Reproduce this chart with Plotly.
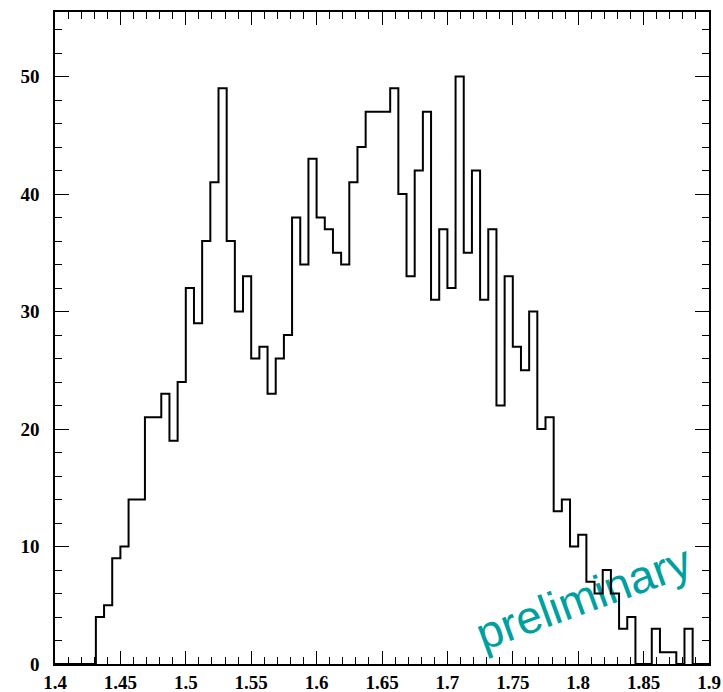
import plotly.graph_objects as go

# Histogram definition: 80 bins between 1.4 and 1.9
x_min = 1.4
x_max = 1.9
n_bins = 80

# Entries per bin
counts = [
    0, 0, 0, 0, 0, 4, 5, 9, 10, 14,
    14, 21, 21, 23, 19, 24, 32, 29, 36, 41,
    49, 36, 30, 33, 26, 27, 23, 26, 28, 38,
    34, 43, 38, 37, 35, 34, 41, 44, 47, 47,
    47, 49, 40, 33, 42, 47, 31, 37, 32, 50,
    35, 42, 31, 37, 22, 33, 27, 25, 30, 20,
    21, 13, 14, 10, 11, 7, 6, 8, 6, 3,
    4, 0, 0, 3, 1, 1, 0, 3, 0, 0,
]

x_ticks = [1.4, 1.45, 1.5, 1.55, 1.6, 1.65, 1.7, 1.75, 1.8, 1.85, 1.9]
x_tick_text = ["1.4", "1.45", "1.5", "1.55", "1.6", "1.65", "1.7", "1.75", "1.8", "1.85", "1.9"]
y_ticks = [0, 10, 20, 30, 40, 50]
y_tick_text = ["0", "10", "20", "30", "40", "50"]

watermark = "preliminary"

bin_width = (x_max - x_min) / n_bins
edges = [x_min + i * bin_width for i in range(n_bins + 1)]
step_y = counts + [counts[-1]]

fig = go.Figure()
fig.add_trace(go.Scatter(
    x=edges, y=step_y,
    mode="lines",
    line=dict(shape="hv", color="black", width=2),
    showlegend=False,
    hoverinfo="skip",
))

tick_font = dict(family="Liberation Serif", size=19, color="black", weight="bold")

fig.update_layout(
    width=723, height=692,
    margin=dict(l=55, r=14, t=12, b=28),
    paper_bgcolor="white",
    plot_bgcolor="white",
    xaxis=dict(
        range=[x_min, x_max],
        automargin=False,
        tickmode="array", tickvals=x_ticks, ticktext=x_tick_text,
        ticks="inside", ticklen=13, tickwidth=1, tickcolor="black",
        minor=dict(dtick=0.01, tick0=1.4, ticks="inside", ticklen=7,
                   tickwidth=1, tickcolor="black", showgrid=False),
        showline=True, linecolor="black", linewidth=1.5, mirror="allticks",
        showgrid=False, zeroline=False,
        tickfont=tick_font,
        ticklabelstandoff=0,
    ),
    yaxis=dict(
        range=[0, 55.5],
        automargin=False,
        tickmode="array", tickvals=y_ticks, ticktext=y_tick_text,
        ticks="inside", ticklen=14, tickwidth=1, tickcolor="black",
        minor=dict(dtick=2, tick0=0, ticks="inside", ticklen=7,
                   tickwidth=1, tickcolor="black", showgrid=False),
        showline=True, linecolor="black", linewidth=1.5, mirror="allticks",
        showgrid=False, zeroline=False,
        tickfont=tick_font,
        ticklabelstandoff=10,
    ),
    shapes=[
        # invisible box carrying the watermark label, drawn beneath the histogram
        dict(
            type="rect", xref="x", yref="y",
            x0=1.76, x1=1.846, y0=4.0, y1=8.0,
            line=dict(width=0), fillcolor="rgba(0,0,0,0)",
            layer="below",
            label=dict(
                text=watermark, textangle=-20,
                textposition="middle center",
                font=dict(family="Liberation Sans", size=46, color="#00a0a0"),
            ),
        )
    ],
)

fig.write_html("out.html")
